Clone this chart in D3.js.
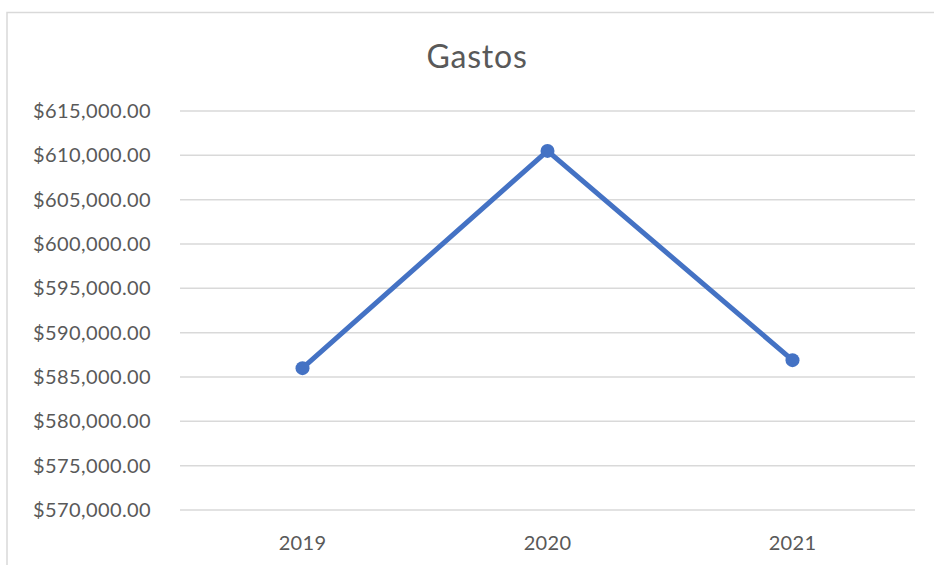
<!DOCTYPE html>
<html>
<head>
<meta charset="utf-8">
<script src="https://cdn.jsdelivr.net/npm/d3@7"></script>
<style>
  body { margin: 0; background: #fff; }
  svg { display: block; font-family: Lato, "Open Sans", sans-serif; }
</style>
</head>
<body>
<svg id="chart" width="934" height="565"></svg>
<script>
// data
const years = ["2019", "2020", "2021"];
const gastos = [586000, 610500, 586900];
const yTicks = [570000, 575000, 580000, 585000, 590000, 595000, 600000, 605000, 610000, 615000];

const svg = d3.select("#chart");
const W = 934, H = 565;
const margin = {top: 111, right: 19, bottom: 55, left: 180};

// chart area frame (only top + left visible in the crop)
svg.append("path")
    .attr("d", `M7,${H} V12.5 H${W}`)
    .attr("fill", "none")
    .attr("stroke", "#d9d9d9")
    .attr("stroke-width", 1.5);

svg.append("text")
    .attr("x", 477).attr("y", 68)
    .attr("text-anchor", "middle")
    .attr("fill", "#595959")
    .style("font-size", "32px")
    .style("letter-spacing", "0.8px")
    .text("Gastos");

const x = d3.scaleBand().domain(years).range([margin.left, W - margin.right]);
const y = d3.scaleLinear().domain([570000, 615000]).range([H - margin.bottom, margin.top]);

const fmt = v => "$" + d3.format(",.2f")(v);

// gridlines
svg.append("g")
    .selectAll("line")
    .data(yTicks)
    .join("line")
    .attr("x1", margin.left).attr("x2", W - margin.right)
    .attr("y1", d => y(d)).attr("y2", d => y(d))
    .attr("stroke", "#d9d9d9")
    .attr("stroke-width", 1.5);

// y labels
svg.append("g")
    .selectAll("text")
    .data(yTicks)
    .join("text")
    .attr("x", 151)
    .attr("y", d => y(d))
    .attr("dy", "0.35em")
    .attr("text-anchor", "end")
    .attr("fill", "#595959")
    .style("font-size", "20px")
    .style("letter-spacing", "0.4px")
    .text(fmt);

// x labels
svg.append("g")
    .selectAll("text")
    .data(years)
    .join("text")
    .attr("x", d => x(d) + x.bandwidth() / 2)
    .attr("y", H - margin.bottom + 33)
    .attr("dy", "0.35em")
    .attr("text-anchor", "middle")
    .attr("fill", "#595959")
    .style("font-size", "20px")
    .style("letter-spacing", "0.3px")
    .text(d => d);

const pts = years.map((yr, i) => ({yr, v: gastos[i]}));

svg.append("path")
    .datum(pts)
    .attr("fill", "none")
    .attr("stroke", "#4472c4")
    .attr("stroke-width", 5)
    .attr("stroke-linejoin", "round")
    .attr("d", d3.line()
        .x(d => x(d.yr) + x.bandwidth() / 2)
        .y(d => y(d.v)));

svg.append("g")
    .selectAll("circle")
    .data(pts)
    .join("circle")
    .attr("cx", d => x(d.yr) + x.bandwidth() / 2)
    .attr("cy", d => y(d.v))
    .attr("r", 7)
    .attr("fill", "#4472c4");
</script>
</body>
</html>
